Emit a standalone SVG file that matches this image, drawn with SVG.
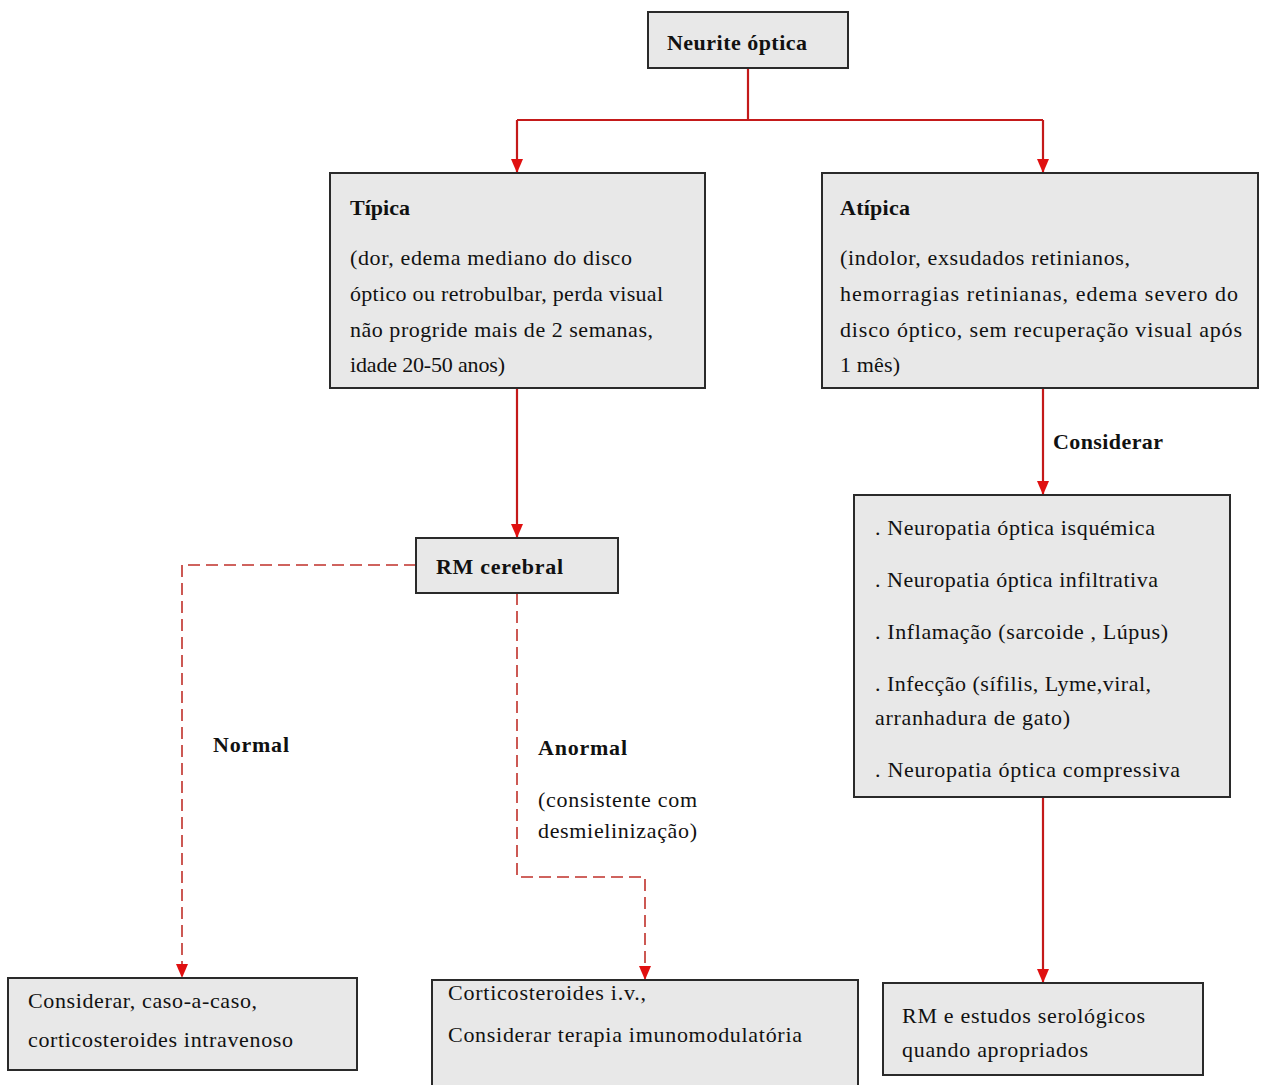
<svg xmlns="http://www.w3.org/2000/svg" width="1261" height="1085" viewBox="0 0 1261 1085">
<style>
.box{fill:#e8e8e8;stroke:#2a2a2a;stroke-width:2}
.t{font-family:"Liberation Serif","Times New Roman",serif;font-size:22px;fill:#111}
.b{font-family:"Liberation Serif","Times New Roman",serif;font-size:22px;font-weight:bold;fill:#111}
.solid{fill:none;stroke:#c41a1a;stroke-width:2.2}
.dash{fill:none;stroke:#c0302a;stroke-width:1.6;stroke-dasharray:12 6}
</style>
<defs>
<marker id="arr" viewBox="0 0 14 12" refX="14" refY="6" markerWidth="14" markerHeight="12" markerUnits="userSpaceOnUse" orient="auto">
<path d="M0,0 L14,6 L0,12 Z" fill="#e01010"/>
</marker>
</defs>
<rect width="1261" height="1085" fill="#ffffff"/>

<g id="connectors">
<path class="solid" d="M748,68 V120"/>
<path class="solid" d="M517,120 H1043"/>
<line class="solid" x1="517" y1="120" x2="517" y2="173" marker-end="url(#arr)"/>
<line class="solid" x1="1043" y1="120" x2="1043" y2="173" marker-end="url(#arr)"/>
<line class="solid" x1="517" y1="388" x2="517" y2="538" marker-end="url(#arr)"/>
<line class="solid" x1="1043" y1="388" x2="1043" y2="495" marker-end="url(#arr)"/>
<line class="solid" x1="1043" y1="797" x2="1043" y2="983" marker-end="url(#arr)"/>
<polyline class="dash" points="416,565 182,565 182,978" marker-end="url(#arr)"/>
<polyline class="dash" points="517,593 517,877 645,877 645,980" marker-end="url(#arr)"/>
<text class="b" x="1053" y="449" textLength="110">Considerar</text>
<text class="b" x="213" y="752" textLength="76">Normal</text>
<text class="b" x="538" y="755" textLength="89">Anormal</text>
<text class="t" x="538" y="807" textLength="159">(consistente com</text>
<text class="t" x="538" y="838" textLength="159">desmielinização)</text>
</g>

<g id="neurite">
<rect class="box" x="648" y="12" width="200" height="56"/>
<text class="b" x="667" y="50" textLength="140">Neurite óptica</text>
</g>

<g id="tipica">
<rect class="box" x="330" y="173" width="375" height="215"/>
<text class="b" x="350" y="215" textLength="60">Típica</text>
<text class="t" x="350" y="265" textLength="282">(dor, edema mediano do disco</text>
<text class="t" x="350" y="301" textLength="313">óptico ou retrobulbar, perda visual</text>
<text class="t" x="350" y="337" textLength="303">não progride mais de 2 semanas,</text>
<text class="t" x="350" y="372" textLength="155">idade 20-50 anos)</text>
</g>

<g id="atipica">
<rect class="box" x="822" y="173" width="436" height="215"/>
<text class="b" x="840" y="215" textLength="70">Atípica</text>
<text class="t" x="840" y="265" textLength="290">(indolor, exsudados retinianos,</text>
<text class="t" x="840" y="301" textLength="398">hemorragias retinianas, edema severo do</text>
<text class="t" x="840" y="337" textLength="402">disco óptico, sem recuperação visual após</text>
<text class="t" x="840" y="372" textLength="60">1 mês)</text>
</g>

<g id="rm">
<rect class="box" x="416" y="538" width="202" height="55"/>
<text class="b" x="436" y="574" textLength="127">RM cerebral</text>
</g>

<g id="considerar-lista">
<rect class="box" x="854" y="495" width="376" height="302"/>
<text class="t" x="875" y="535" textLength="280">. Neuropatia óptica isquémica</text>
<text class="t" x="875" y="587" textLength="283">. Neuropatia óptica infiltrativa</text>
<text class="t" x="875" y="639" textLength="293">. Inflamação (sarcoide , Lúpus)</text>
<text class="t" x="875" y="691" textLength="276">. Infecção (sífilis, Lyme,viral,</text>
<text class="t" x="875" y="725" textLength="195">arranhadura de gato)</text>
<text class="t" x="875" y="777" textLength="305">. Neuropatia óptica compressiva</text>
</g>

<g id="normal-tx">
<rect class="box" x="8" y="978" width="349" height="92"/>
<text class="t" x="28" y="1008" textLength="229">Considerar, caso-a-caso,</text>
<text class="t" x="28" y="1047" textLength="265">corticosteroides intravenoso</text>
</g>

<g id="anormal-tx">
<rect class="box" x="432" y="980" width="426" height="120"/>
<text class="t" x="448" y="1000" textLength="198">Corticosteroides i.v.,</text>
<text class="t" x="448" y="1042" textLength="354">Considerar terapia imunomodulatória</text>
</g>

<g id="rm-serologia">
<rect class="box" x="883" y="983" width="320" height="92"/>
<text class="t" x="902" y="1023" textLength="243">RM e estudos serológicos</text>
<text class="t" x="902" y="1057" textLength="186">quando apropriados</text>
</g>
</svg>
